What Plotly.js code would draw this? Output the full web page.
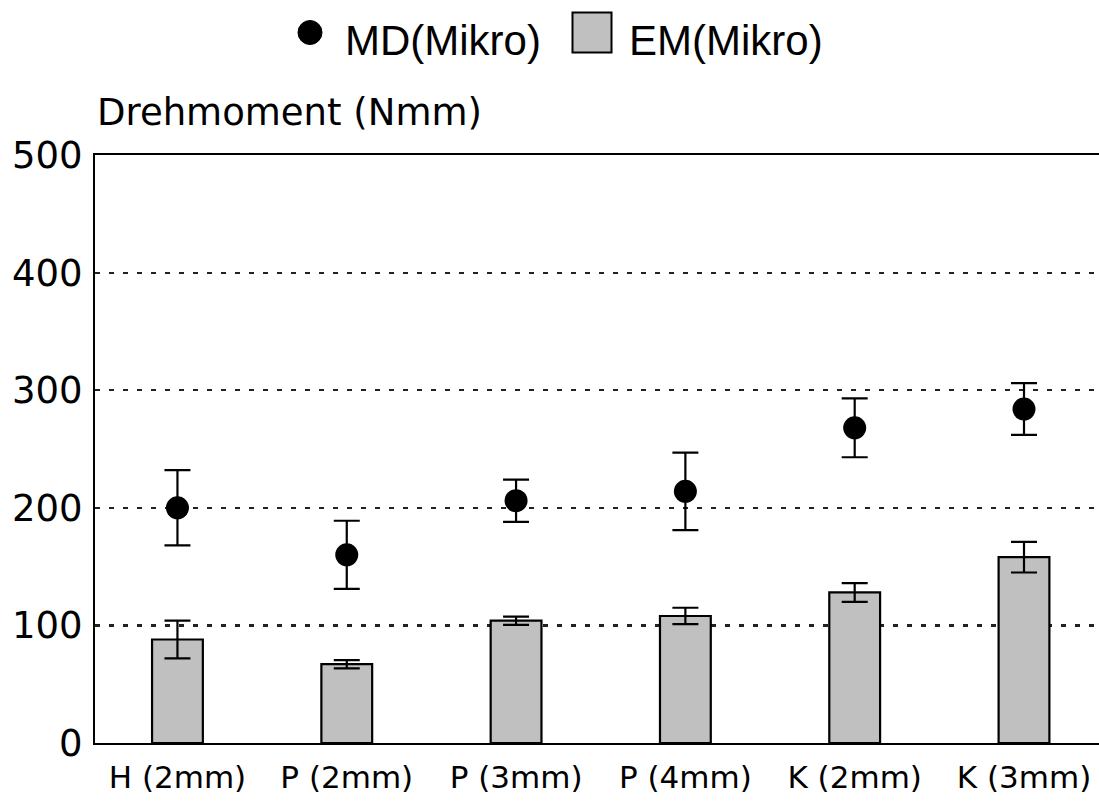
<!DOCTYPE html>
<html>
<head>
<meta charset="utf-8">
<script src="https://cdn.plot.ly/plotly-3.0.1.min.js"></script>
<style>
  html, body { margin: 0; padding: 0; background: #ffffff; }
  #chart { width: 1099px; height: 801px; }
</style>
</head>
<body>
<div id="chart"></div>
<script>
// Torque per sample type: MD and EM means with their spread
const categories = ['H (2mm)', 'P (2mm)', 'P (3mm)', 'P (4mm)', 'K (2mm)', 'K (3mm)'];
const mdValues = [200, 160, 206, 214, 268, 284];
const mdErrors = [32, 29, 18, 33, 25, 22];
const emValues = [88, 67, 104, 108, 128, 158];
const emErrors = [16, 3.5, 3.5, 7, 8, 13];
const yTicks = [0, 100, 200, 300, 400, 500];

const mdName = 'MD(Mikro)';
const emName = 'EM(Mikro)';
const yLabel = 'Drehmoment (Nmm)';

const tickFont = 'DejaVu Sans, sans-serif';
const legendFont = 'Liberation Sans, Arial, sans-serif';

const emTrace = {
  type: 'bar',
  name: emName,
  x: categories,
  y: emValues,
  width: 0.30,
  marker: { color: '#c0c0c0', line: { color: '#000000', width: 2.2 } },
  error_y: { type: 'data', array: emErrors, visible: true, color: '#000000', thickness: 2.2, width: 13 },
  hoverinfo: 'x+y'
};

const mdTrace = {
  type: 'scatter',
  mode: 'markers',
  name: mdName,
  x: categories,
  y: mdValues,
  marker: { color: '#000000', size: 23, symbol: 'circle' },
  error_y: { type: 'data', array: mdErrors, visible: true, color: '#000000', thickness: 2.2, width: 13 },
  hoverinfo: 'x+y'
};

// Plot area geometry in pixels, used for the legend placed above it
const M = { l: 95, r: 0, t: 155, b: 58 };
const plotH = 801 - M.t - M.b;
const plotW = 1099 - M.l - M.r;
const px2x = p => (p - M.l) / plotW;
const px2y = p => 1 + (M.t - p) / plotH;

const layout = {
  width: 1099,
  height: 801,
  margin: M,
  paper_bgcolor: '#ffffff',
  plot_bgcolor: '#ffffff',
  showlegend: false,
  barmode: 'overlay',
  xaxis: {
    type: 'category',
    range: [-0.487, 5.443],
    showgrid: false,
    zeroline: false,
    showline: true,
    linecolor: '#000000',
    linewidth: 2,
    mirror: true,
    ticks: '',
    ticklabelstandoff: 6,
    tickfont: { family: tickFont, size: 31, color: '#000000' }
  },
  yaxis: {
    range: [0, 500],
    tickvals: yTicks,
    ticktext: yTicks.map(String),
    showgrid: true,
    gridcolor: '#222222',
    gridwidth: 2.2,
    griddash: '5px,9px',
    zeroline: false,
    showline: true,
    linecolor: '#000000',
    linewidth: 2,
    mirror: false,
    ticks: '',
    ticklabelstandoff: 3,
    tickfont: { family: tickFont, size: 37, color: '#000000' }
  },
  shapes: [
    {
      type: 'circle', xref: 'paper', yref: 'paper',
      xsizemode: 'pixel', ysizemode: 'pixel',
      xanchor: px2x(310), yanchor: px2y(32.5),
      x0: -12, x1: 12, y0: -12, y1: 12,
      fillcolor: '#000000', line: { color: '#000000', width: 1 }
    },
    {
      type: 'rect', xref: 'paper', yref: 'paper',
      xsizemode: 'pixel', ysizemode: 'pixel',
      xanchor: px2x(592), yanchor: px2y(32.5),
      x0: -19.5, x1: 19.5, y0: -20, y1: 20,
      fillcolor: '#c0c0c0', line: { color: '#000000', width: 2 }
    }
  ],
  annotations: [
    {
      text: mdName, xref: 'paper', yref: 'paper',
      x: px2x(343), y: px2y(40), xanchor: 'left', yanchor: 'middle',
      showarrow: false,
      font: { family: legendFont, size: 42, color: '#000000' }
    },
    {
      text: emName, xref: 'paper', yref: 'paper',
      x: px2x(627), y: px2y(40), xanchor: 'left', yanchor: 'middle',
      showarrow: false,
      font: { family: legendFont, size: 42, color: '#000000' }
    },
    {
      text: yLabel, xref: 'paper', yref: 'paper',
      x: px2x(95), y: 1, xanchor: 'left', yanchor: 'bottom', yshift: 19,
      showarrow: false,
      font: { family: tickFont, size: 37, color: '#000000' }
    }
  ]
};

Plotly.newPlot('chart', [emTrace, mdTrace], layout, { staticPlot: true, displayModeBar: false });
</script>
</body>
</html>
